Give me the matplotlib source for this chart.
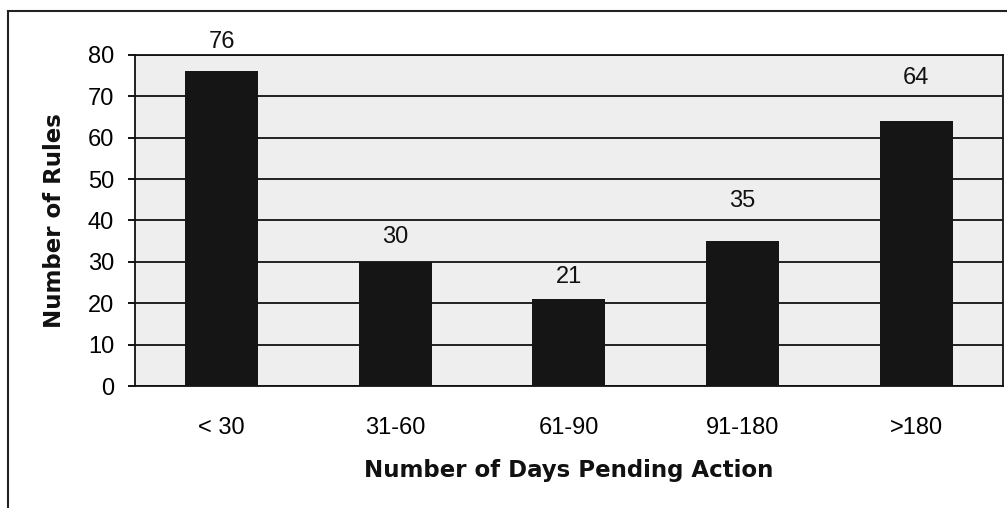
import numpy as np
import matplotlib.pyplot as plt
from matplotlib.lines import Line2D

categories = ['< 30', '31-60', '61-90', '91-180', '>180']
rules = [76, 30, 21, 35, 64]
yticks = [0, 10, 20, 30, 40, 50, 60, 70, 80]

# how far each value label sits above its bar (points)
label_offsets = [21, 18, 16, 29, 31]


def main():
    plt.rcParams['font.family'] = ['Liberation Sans', 'DejaVu Sans']
    fig = plt.figure(figsize=(10.07, 5.08), dpi=100)
    ax = fig.add_axes([0.134, 0.240, 0.862, 0.652])
    ax.set_facecolor('#eeeeee')

    x = np.arange(len(categories))
    ax.bar(x, rules, width=0.42, color='#151515', zorder=3)

    for xi, v, off in zip(x, rules, label_offsets):
        ax.annotate(str(v), (xi, v), xytext=(0, off), textcoords='offset points',
                    ha='center', va='center', fontsize=17, color='#111111',
                    annotation_clip=False)

    ax.set_xlim(-0.5, len(categories) - 0.5)
    ax.set_ylim(0, 80)
    ax.set_yticks(yticks)
    ax.yaxis.grid(True, color='#111111', linewidth=1.3, zorder=1)
    ax.set_axisbelow(True)

    ax.set_xticks(x)
    ax.set_xticklabels(categories, fontsize=17)
    ax.tick_params(axis='x', length=0, pad=22)
    ax.tick_params(axis='y', labelsize=17, length=5, width=1.3, pad=10)

    for s in ['left', 'right', 'bottom', 'top']:
        ax.spines[s].set_linewidth(1.3)
        ax.spines[s].set_color('#111111')

    bold = dict(family=['DejaVu Sans'], fontsize=16.5, fontweight='bold', color='#111111')
    ax.set_ylabel('Number of Rules', labelpad=16, **bold)
    ax.set_xlabel('Number of Days Pending Action', labelpad=15, **bold)

    # outer frame of the scanned figure (top and left only)
    fig.add_artist(Line2D([0.008, 1.0], [0.978, 0.978], color='#222222', lw=1.5,
                          transform=fig.transFigure))
    fig.add_artist(Line2D([0.008, 0.008], [0.0, 0.978], color='#222222', lw=1.5,
                          transform=fig.transFigure))

    fig.savefig('out.png', dpi=100)


if __name__ == '__main__':
    main()
